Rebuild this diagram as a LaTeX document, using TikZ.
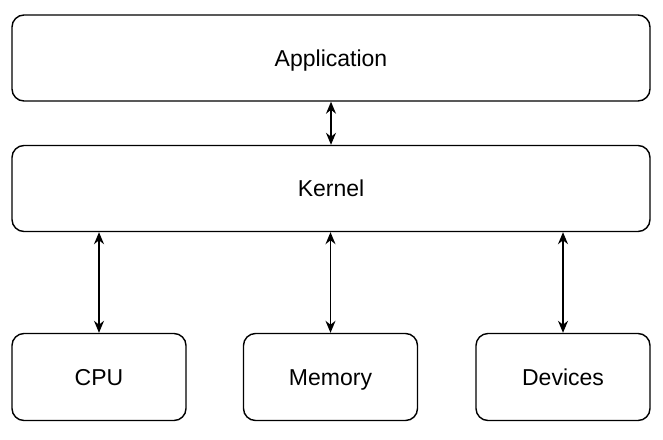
\documentclass[tikz,border=0pt]{standalone}
\usepackage{fontspec}
\setmainfont{Liberation Sans}
\usetikzlibrary{arrows.meta}
\tikzset{every node/.style={rectangle,draw,rounded corners=12pt,line width=1.4pt,inner sep=0pt,text height=16pt,text depth=0pt,font=\fontsize{23}{27}\selectfont}}
\tikzset{wide/.style={minimum width=638pt,minimum height=86pt}}
\tikzset{unit/.style={minimum width=174pt,minimum height=87pt}}

\begin{document}
\begin{tikzpicture}[x=1pt,y=-1pt,>={Stealth[length=12pt,width=10pt]},line width=1.4pt]
      \useasboundingbox (0,0) rectangle (663,439);
      \node[wide] (app) at (331,58) {Application};
      \node[wide] (kernel) at (331,188.5) {Kernel};
      \node[unit] (cpu) at (99,377) {CPU};
      \node[unit] (mem) at (330.5,377) {Memory};
      \node[unit] (dev) at (563,377) {Devices};
        \draw[<->] (app) -- (kernel);
        \draw[<->] (kernel.south -| cpu.north) -- (cpu.north);
        \draw[<->] (kernel.south -| mem.north) -- (mem.north);
        \draw[<->] (kernel.south -| dev.north) -- (dev.north);
    \end{tikzpicture}
\end{document}
